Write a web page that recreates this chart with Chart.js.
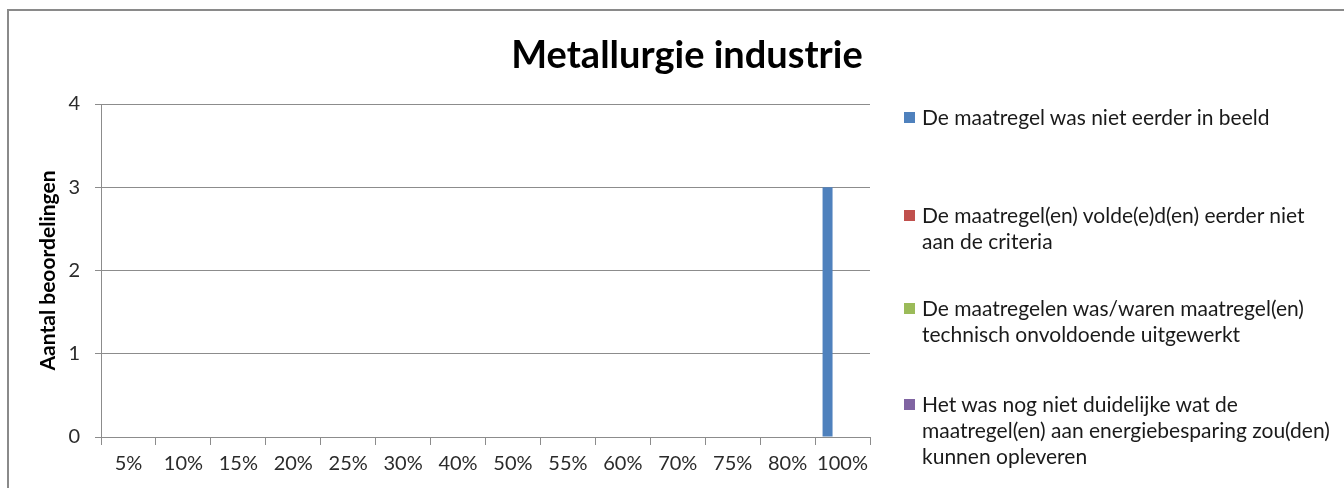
<!DOCTYPE html>
<html>
<head>
<meta charset="utf-8">
<script src="https://cdn.jsdelivr.net/npm/chart.js@4.4.0/dist/chart.umd.min.js"></script>
<style>
  html, body { margin: 0; padding: 0; background: #fff; }
  #wrap { position: relative; width: 1344px; height: 488px; overflow: hidden; font-family: Lato, sans-serif; }
  #frame { position: absolute; left: 7px; top: 9px; width: 1400px; height: 600px; border: 2px solid #8a8a8a; box-sizing: border-box; }
  #chartTitle { position: absolute; top: 30px; left: 0; width: 1374px; text-align: center; font-size: 38px; line-height: 46px; font-weight: bold; color: #000; }
  #myChart { position: absolute; left: 0; top: 0; }
  #legend { position: absolute; left: 904px; top: 0; width: 436px; }
  .item { position: relative; padding-left: 18px; font-size: 21px; line-height: 26px; color: #1a1a1a; }
  .item span.box { position: absolute; left: 0; top: 8px; width: 11px; height: 11px; }
  .item:nth-child(1) { margin-top: 104px; }
  .item:nth-child(2) { margin-top: 72px; }
  .item:nth-child(3) { margin-top: 41px; }
  .item:nth-child(4) { margin-top: 44px; }
</style>
</head>
<body>
<div id="wrap">
  <div id="frame"></div>
  <canvas id="myChart" width="1344" height="488"></canvas>
  <div id="chartTitle">Metallurgie industrie</div>
  <div id="legend"></div>
</div>
<script>
// categories (x axis)
const categories = ["5%", "10%", "15%", "20%", "25%", "30%", "40%", "50%", "55%", "60%", "70%", "75%", "80%", "100%"];

// series names
const seriesNames = [
  "De maatregel was niet eerder in beeld",
  "De maatregel(en) volde(e)d(en) eerder niet aan de criteria",
  "De maatregelen was/waren maatregel(en) technisch onvoldoende uitgewerkt",
  "Het was nog niet duidelijke wat de maatregel(en) aan energiebesparing zou(den) kunnen opleveren",
];

// series values
const notInView = [0, 0, 0, 0, 0, 0, 0, 0, 0, 0, 0, 0, 0, 3];
const notCriteria = [0, 0, 0, 0, 0, 0, 0, 0, 0, 0, 0, 0, 0, 0];
const notWorkedOut = [0, 0, 0, 0, 0, 0, 0, 0, 0, 0, 0, 0, 0, 0];
const notClear = [0, 0, 0, 0, 0, 0, 0, 0, 0, 0, 0, 0, 0, 0];

const seriesColors = ["#4f81bd", "#c0504d", "#9bbb59", "#8064a2"];
const seriesValues = [notInView, notCriteria, notWorkedOut, notClear];

const yTicks = [0, 1, 2, 3, 4];

const gridColor = "#8c8c8c";
const tickColor = "#2b2b2b";

var ctx = document.getElementById("myChart");

const data = {
  labels: categories,
  datasets: seriesNames.map((name, i) => ({
    label: name,
    data: seriesValues[i],
    backgroundColor: seriesColors[i],
    borderWidth: 0,
    categoryPercentage: 4 / 5.5,
    barPercentage: 1,
  })),
};

const config = {
  type: "bar",
  data: data,
  options: {
    responsive: false,
    animation: false,
    layout: {
      padding: { left: 36, top: 104, right: 474, bottom: 0 },
    },
    plugins: {
      legend: { display: false },
      tooltip: { enabled: false },
    },
    scales: {
      x: {
        grid: {
          drawOnChartArea: false,
          drawTicks: true,
          tickLength: 8,
          color: gridColor,
        },
        border: { color: gridColor },
        ticks: {
          color: tickColor,
          font: { family: "Lato", size: 20 },
          padding: 7,
          maxRotation: 0,
          autoSkip: false,
        },
        afterFit: function (scale) {
          scale.height = 51;
        },
      },
      y: {
        min: 0,
        max: 4,
        afterBuildTicks: function (scale) {
          scale.ticks = yTicks.map((v) => ({ value: v }));
        },
        grid: {
          color: gridColor,
          tickLength: 6,
        },
        border: { color: gridColor },
        ticks: {
          color: tickColor,
          font: { family: "Lato", size: 20 },
          padding: 15,
        },
        title: {
          display: true,
          text: "Aantal beoordelingen",
          color: "#000",
          font: { family: "Lato", size: 21, weight: "bold" },
          padding: 0,
        },
        afterFit: function (scale) {
          scale.width = 65;
        },
      },
    },
  },
};

const myChart = new Chart(ctx, config);

// legend built from the same series
var legendEl = document.getElementById("legend");
seriesNames.forEach((name, i) => {
  var item = document.createElement("div");
  item.className = "item";
  var box = document.createElement("span");
  box.className = "box";
  box.style.background = seriesColors[i];
  item.appendChild(box);
  item.appendChild(document.createTextNode(name));
  legendEl.appendChild(item);
});
</script>
</body>
</html>
